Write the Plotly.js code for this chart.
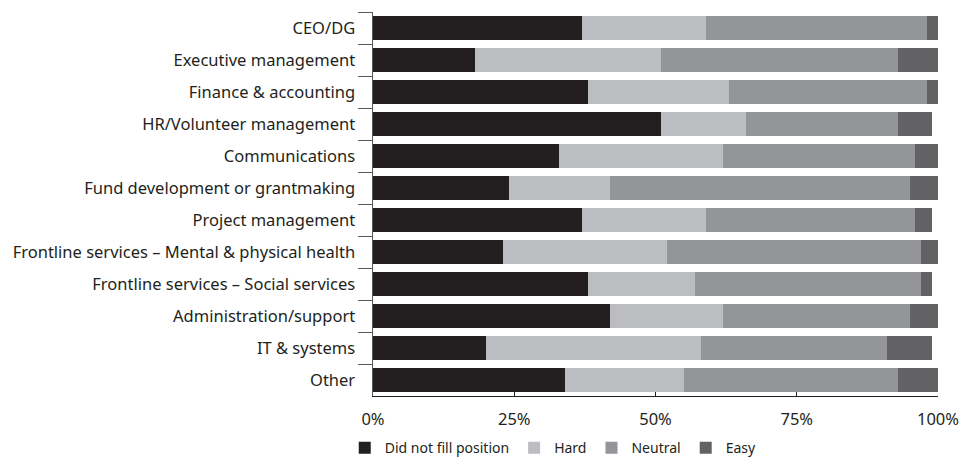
<!DOCTYPE html>
<html>
<head>
<meta charset="utf-8">
<script src="https://cdn.plot.ly/plotly-3.0.1.min.js"></script>
<style>html,body{margin:0;padding:0;background:#fff;}#chart{width:966px;height:462px;}</style>
</head>
<body>
<div id="chart"></div>
<script>
const categories = [
  "CEO/DG",
  "Executive management",
  "Finance & accounting",
  "HR/Volunteer management",
  "Communications",
  "Fund development or grantmaking",
  "Project management",
  "Frontline services – Mental & physical health",
  "Frontline services – Social services",
  "Administration/support",
  "IT & systems",
  "Other"
];
const didNotFill = [37, 18, 38, 51, 33, 24, 37, 23, 38, 42, 20, 34];
const hard       = [22, 33, 25, 15, 29, 18, 22, 29, 19, 20, 38, 21];
const neutral    = [39, 42, 35, 27, 34, 53, 37, 45, 40, 33, 33, 38];
const easy       = [ 2,  7,  3,  6,  4,  5,  3,  4,  2,  5,  8,  8];
const seriesNames = ["Did not fill position", "Hard", "Neutral", "Easy"];
const seriesColors = ["#231f20", "#bcbdc0", "#939598", "#626264"];
const tickVals = [0, 25, 50, 75, 100];
const tickText = ["0%", "25%", "50%", "75%", "100%"];

const FONT = "Noto Sans, Open Sans, sans-serif";
const seriesData = [didNotFill, hard, neutral, easy];
const traces = seriesData.map((vals, i) => ({
  type: "bar",
  orientation: "h",
  name: seriesNames[i],
  y: categories,
  x: vals,
  marker: {color: seriesColors[i], line: {width: 0}},
  cliponaxis: false,
  hoverinfo: "x+y+name"
}));

const layout = {
  width: 966,
  height: 462,
  barmode: "stack",
  bargap: 0.25,
  paper_bgcolor: "#ffffff",
  plot_bgcolor: "#ffffff",
  margin: {l: 373, r: 28, t: 12, b: 66, pad: 0, autoexpand: false},
  font: {family: FONT, size: 16, color: "#231f20"},
  xaxis: {
    range: [0, 100],
    tickvals: tickVals,
    ticktext: tickText,
    ticks: "inside",
    ticklen: 4,
    tickcolor: "#231f20",
    showline: true,
    linecolor: "#231f20",
    linewidth: 1,
    showgrid: false,
    zeroline: false,
    tickfont: {family: FONT, size: 16.5, color: "#231f20"},
    ticklabelstandoff: 8,
    ticklabeloverflow: "allow",
    automargin: false,
    fixedrange: true
  },
  yaxis: {
    type: "category",
    categoryorder: "array",
    categoryarray: categories,
    autorange: "reversed",
    ticks: "outside",
    tickson: "boundaries",
    ticklen: 14,
    tickcolor: "#58585a",
    showline: true,
    linecolor: "#58585a",
    linewidth: 1.5,
    showgrid: false,
    zeroline: false,
    tickfont: {family: FONT, size: 16.5, color: "#231f20"},
    ticklabelstandoff: 13,
    automargin: false,
    fixedrange: true
  },
  showlegend: true,
  legend: {
    orientation: "h",
    x: -0.05,
    xanchor: "left",
    y: -0.136,
    yanchor: "middle",
    font: {family: FONT, size: 14, color: "#231f20"},
    traceorder: "normal",
    itemwidth: 30,
    bgcolor: "rgba(0,0,0,0)"
  }
};

Plotly.newPlot("chart", traces, layout, {displayModeBar: false, staticPlot: true});
</script>
</body>
</html>
